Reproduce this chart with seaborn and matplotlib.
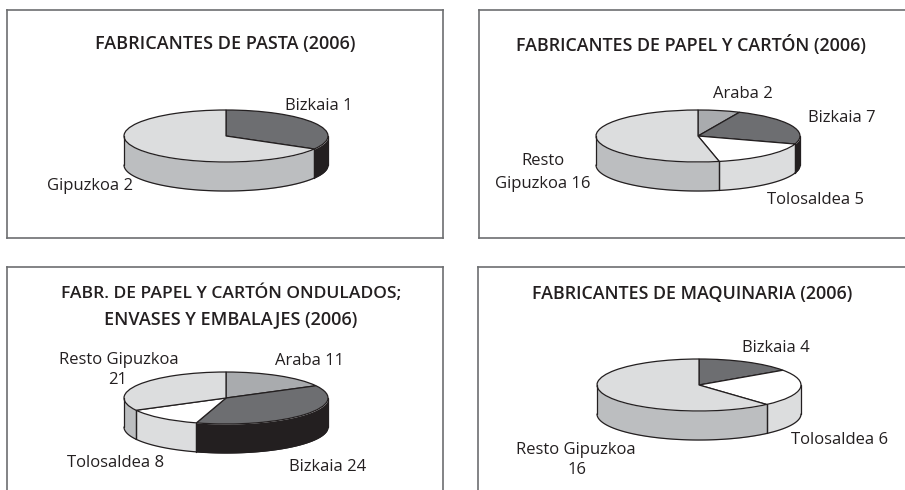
import matplotlib
matplotlib.use('Agg')
import matplotlib.pyplot as plt
import numpy as np
import seaborn as sns

# DATA
pasta_names = ['Bizkaia', 'Gipuzkoa']
pasta_values = [1, 2]
papel_names = ['Araba', 'Bizkaia', 'Tolosaldea', 'Resto']
papel_values = [2, 7, 5, 16]
ondulado_names = ['Araba', 'Bizkaia', 'Tolosaldea', 'Resto']
ondulado_values = [11, 24, 8, 21]
maquinaria_names = ['Bizkaia', 'Tolosaldea', 'Resto']
maquinaria_values = [4, 6, 16]

# colours per region (top of the pie, side of the pie)
top_colors = {'Araba': '#a9abae', 'Bizkaia': '#6d6e71', 'Tolosaldea': '#ffffff',
              'Gipuzkoa': '#dcddde', 'Resto': '#dcddde'}
side_colors = {'Araba': '#808285', 'Bizkaia': '#231f20', 'Tolosaldea': '#dcddde',
               'Gipuzkoa': '#bcbec0', 'Resto': '#bcbec0'}
INK = '#231f20'
W, H = 905, 490
RX, RY, DEPTH = 102, 26, 29

sns.set_theme(style='white')
plt.rcParams['font.family'] = ['Open Sans', 'DejaVu Sans']

fig = plt.figure(figsize=(W / 100, H / 100), dpi=100)


def put_text(x, y, s, size=12, weight='normal'):
    fig.text(x / W, 1 - (y + 1.5) / H, s, ha='center', va='center', fontsize=size,
             fontweight=weight, color=INK)


def panel(box, center, names, values):
    left, top, right, bottom = box
    ax = fig.add_axes([left / W, 1 - bottom / H, (right - left) / W, (bottom - top) / H])
    colors = [top_colors[n] for n in names]
    ax.pie(values, colors=colors, startangle=90, counterclock=False,
           wedgeprops={'edgecolor': INK, 'linewidth': 0.9})
    ax.set_aspect('auto')
    ax.set_xlim((left - center[0]) / RX, (right - center[0]) / RX)
    ax.set_ylim((center[1] - bottom) / RY, (center[1] - top) / RY)

    # side of the pie, only the front half shows
    edges = np.cumsum([0] + list(values)) / sum(values) * 360
    depth = DEPTH / RY
    for name, a, b in zip(names, edges[:-1], edges[1:]):
        a, b = max(a, 90), min(b, 270)
        if a >= b:
            continue
        t = np.radians(np.linspace(a, b, 80))
        x, y = np.sin(t), np.cos(t)
        ax.fill_between(x, y, y - depth, color=side_colors[name], lw=0, zorder=0.5)
        ax.plot(x, y - depth, color=INK, lw=0.9, zorder=3)
        ax.plot([x[0], x[0]], [y[0], y[0] - depth], color=INK, lw=0.9, zorder=3)
        ax.plot([x[-1], x[-1]], [y[-1], y[-1] - depth], color=INK, lw=0.9, zorder=3)

    ax.set_frame_on(True)
    ax.set_xticks([])
    ax.set_yticks([])
    for s in ax.spines.values():
        s.set_color('#6d6e71')
        s.set_linewidth(1.2)
    return ax


ax1 = panel((7, 10, 443, 238), (226, 136), pasta_names, pasta_values)
ax2 = panel((479, 10, 910, 238), (698, 136), papel_names, papel_values)
ax3 = panel((7, 267, 443, 495), (226, 398), ondulado_names, ondulado_values)
ax4 = panel((478, 267, 910, 495), (699, 385), maquinaria_names, maquinaria_values)

sns.despine(ax=ax2, top=False, left=False, bottom=False, right=True)
sns.despine(ax=ax3, top=False, left=False, right=False, bottom=True)
sns.despine(ax=ax4, top=False, left=False, right=True, bottom=True)

# TITLES
put_text(225, 43, 'FABRICANTES DE PASTA (2006)', 13, 'semibold')
put_text(691, 43, 'FABRICANTES DE PAPEL Y CARTÓN (2006)', 12.9, 'semibold')
put_text(231, 292, 'FABR. DE PAPEL Y CARTÓN ONDULADOS;', 12.6, 'semibold')
put_text(231, 318, 'ENVASES Y EMBALAJES (2006)', 13, 'semibold')
put_text(692, 292, 'FABRICANTES DE MAQUINARIA (2006)', 12.9, 'semibold')

# LABELS
put_text(319, 104, 'Bizkaia 1')
put_text(90, 184, 'Gipuzkoa 2')
put_text(743, 93, 'Araba 2')
put_text(842, 117, 'Bizkaia 7')
put_text(543, 159, 'Resto')
put_text(543, 183, 'Gipuzkoa 16')
put_text(815, 198, 'Tolosaldea 5')
put_text(119, 358, 'Resto Gipuzkoa')
put_text(118, 378, '21')
put_text(309, 359, 'Araba 11')
put_text(116, 461, 'Tolosaldea 8')
put_text(328, 465, 'Bizkaia 24')
put_text(776, 347, 'Bizkaia 4')
put_text(840, 438, 'Tolosaldea 6')
put_text(576, 448, 'Resto Gipuzkoa')
put_text(577, 468, '16')

fig.savefig('out.png', dpi=100)
